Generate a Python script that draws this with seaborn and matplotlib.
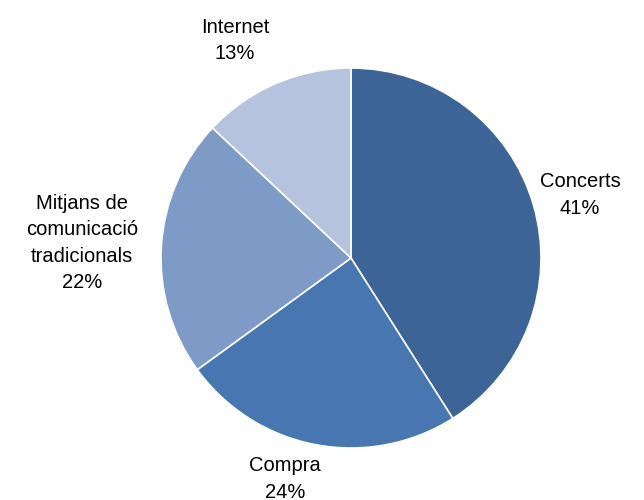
import matplotlib
matplotlib.use("Agg")
import matplotlib.pyplot as plt
import seaborn as sns

categories = ["Concerts", "Compra", "Mitjans de\ncomunicació\ntradicionals", "Internet"]
shares = [41, 24, 22, 13]
colors = ["#3C6497", "#4776B0", "#7E9BC8", "#B5C3DF"]

# label anchor points (data units, pie radius = 1)
label_xy = [(1.205, 0.332), (-0.347, -1.162), (-1.416, 0.08), (-0.61, 1.145)]

sns.set_theme(style="white")
plt.rcParams["font.family"] = ["Liberation Sans", "DejaVu Sans"]

W, H = 644, 500
cx, cy, r = 351, 258, 190
fig = plt.figure(figsize=(W / 100, H / 100), dpi=100)
ax = fig.add_axes([(cx - r) / W, (H - cy - r) / H, 2 * r / W, 2 * r / H])

ax.pie(shares, colors=colors, startangle=90, counterclock=False,
       radius=1, wedgeprops=dict(edgecolor="white", linewidth=1.2))
ax.set_xlim(-1, 1)
ax.set_ylim(-1, 1)
ax.set_aspect("equal")
ax.axis("off")

for name, val, (x, y) in zip(categories, shares, label_xy):
    ax.text(x, y, f"{name}\n{val}%", ha="center", va="center",
            fontsize=14.5, color="black", linespacing=1.5, clip_on=False)

fig.savefig("out.png", dpi=100, facecolor="white")
